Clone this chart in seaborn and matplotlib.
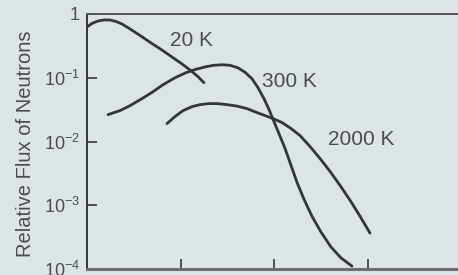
import pandas as pd
import matplotlib
matplotlib.use('Agg')
import matplotlib.pyplot as plt
import seaborn as sns

# Curve values (x in log-energy decades, y = relative flux)
x_20k = [0.0, 0.053, 0.118, 0.182, 0.246, 0.310, 0.374, 0.460, 0.567, 0.684,
         0.791, 0.898, 1.005, 1.112, 1.187, 1.251]
y_20k = [0.626, 0.711, 0.778, 0.806, 0.806, 0.763, 0.698, 0.583, 0.461, 0.352,
         0.279, 0.217, 0.169, 0.129, 0.104, 0.0835]

x_300k = [0.225, 0.353, 0.460, 0.588, 0.706, 0.813, 0.941, 1.059, 1.166, 1.273,
          1.358, 1.444, 1.529, 1.615, 1.690, 1.765, 1.829, 1.893, 1.947, 2.0,
          2.053, 2.118, 2.182, 2.246, 2.321, 2.406, 2.503, 2.610, 2.717, 2.834]
y_300k = [0.0264, 0.0305, 0.0365, 0.047, 0.0604, 0.0778, 0.100, 0.120, 0.136, 0.149,
          0.157, 0.160, 0.157, 0.143, 0.122, 0.0964, 0.0698, 0.047, 0.0316, 0.0205,
          0.0133, 0.00778, 0.00422, 0.00229, 0.00124, 0.000673, 0.000379, 0.000221,
          0.000149, 0.000111]

x_2000k = [0.856, 0.941, 1.027, 1.123, 1.209, 1.305, 1.390, 1.497, 1.604, 1.711,
           1.818, 1.904, 1.989, 2.086, 2.182, 2.278, 2.385, 2.492, 2.599, 2.706,
           2.813, 2.920, 3.027]
y_2000k = [0.0191, 0.0246, 0.0305, 0.0352, 0.0379, 0.0393, 0.0393, 0.0379, 0.0359,
           0.0328, 0.0284, 0.0255, 0.0229, 0.0198, 0.0160, 0.0124, 0.00835, 0.00542,
           0.0034, 0.00205, 0.0012, 0.000673, 0.000365]

labels = ['20 K', '300 K', '2000 K']
label_x = [1.12, 2.17, 2.93]
label_y = [0.38, 0.088, 0.0107]

y_ticks = [1e-4, 1e-3, 1e-2, 1e-1, 1]
y_tick_labels = ['$\\mathdefault{10^{-4}}$', '$\\mathdefault{10^{-3}}$',
                 '$\\mathdefault{10^{-2}}$', '$\\mathdefault{10^{-1}}$', '1']
x_ticks = [1, 2, 3]

df = pd.concat([
    pd.DataFrame({'x': x_20k, 'flux': y_20k, 'T': '20 K'}),
    pd.DataFrame({'x': x_300k, 'flux': y_300k, 'T': '300 K'}),
    pd.DataFrame({'x': x_2000k, 'flux': y_2000k, 'T': '2000 K'}),
])

bg = '#dde4e6'
ink = '#333638'
txt = '#4a4c4e'

sns.set_theme(style='ticks')
plt.rcParams['font.family'] = ['Liberation Sans', 'DejaVu Sans']

fig = plt.figure(figsize=(4.58, 2.75), dpi=100, facecolor=bg)
ax = fig.add_axes([87 / 458, 6 / 275, 371 / 458, 255 / 275])
ax.set_facecolor(bg)

sns.lineplot(data=df, x='x', y='flux', hue='T', units='T', estimator=None,
             palette=[ink, ink, ink], linewidth=2.0, legend=False, ax=ax)
for line in ax.lines:
    line.set_solid_joinstyle('round')
    line.set_solid_capstyle('round')

ax.set_yscale('log')
ax.set_ylim(1e-4, 1)
ax.set_xlim(0, 371 / 93.5)
ax.set_yticks(y_ticks)
ax.set_yticklabels(y_tick_labels)
ax.minorticks_off()
ax.set_xticks(x_ticks)
ax.set_xticklabels([])
ax.tick_params(axis='both', direction='in', length=7, width=1.2, colors=ink,
               labelcolor=txt, labelsize=13, pad=5)

for t, lx, ly in zip(labels, label_x, label_y):
    ax.text(lx, ly, t, fontsize=15, color=txt, ha='center', va='center')

ax.set_xlabel('')
ax.set_ylabel('Relative Flux of Neutrons', fontsize=14.5, color=txt)
ax.yaxis.set_label_coords(-0.14, 0.49)

ax.spines['right'].set_visible(False)
ax.spines['left'].set_color(ink)
ax.spines['left'].set_linewidth(1.4)
ax.spines['top'].set_color('#55595b')
ax.spines['top'].set_linewidth(1.4)
ax.spines['bottom'].set_color('#6a6e70')
ax.spines['bottom'].set_linewidth(2.2)

fig.savefig('out.png', dpi=100, facecolor=bg)
